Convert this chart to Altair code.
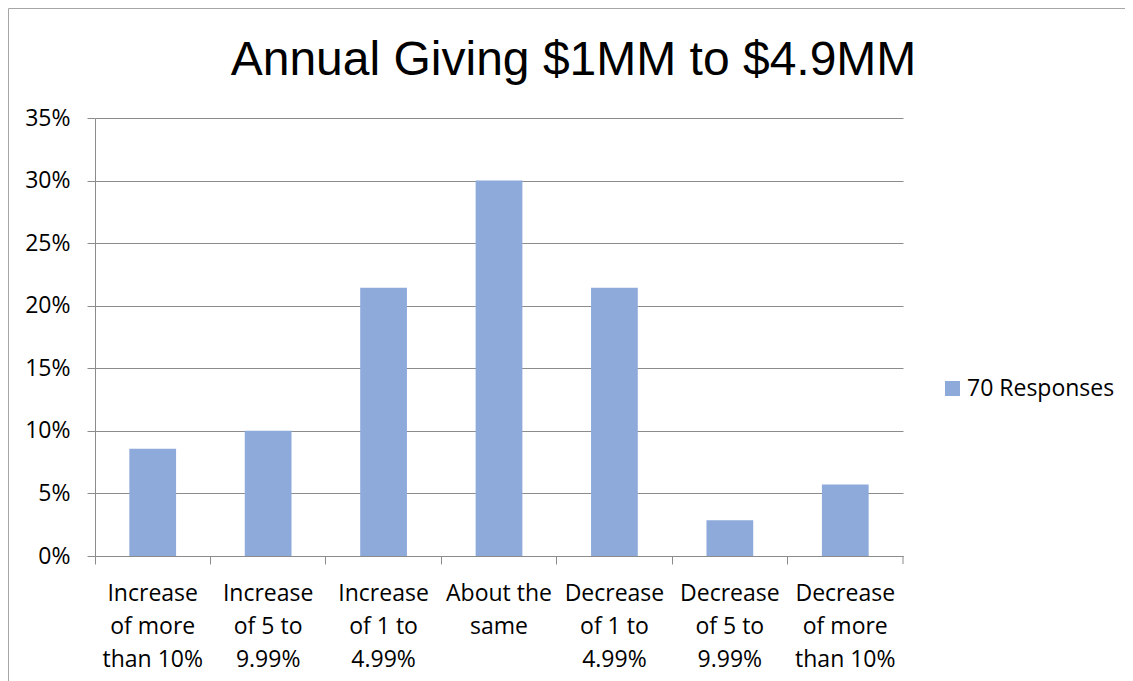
import altair as alt
import pandas as pd

title_text = "Annual Giving $1MM to $4.9MM"
categories = [
    "Increase\nof more\nthan 10%",
    "Increase\nof 5 to\n9.99%",
    "Increase\nof 1 to\n4.99%",
    "About the\nsame",
    "Decrease\nof 1 to\n4.99%",
    "Decrease\nof 5 to\n9.99%",
    "Decrease\nof more\nthan 10%",
]
values = [0.0857, 0.10, 0.2143, 0.30, 0.2143, 0.0286, 0.0571]
series_name = "70 Responses"
y_ticks = [0, 0.05, 0.10, 0.15, 0.20, 0.25, 0.30, 0.35]

df = pd.DataFrame({"category": categories, "value": values, "series": [series_name] * len(categories)})

W, H = 808, 438
AXIS_FONT = "Open Sans"
FS = 23
GRID = "#8c8c8c"

bars = alt.Chart(df).mark_bar(width=alt.RelativeBandSize(0.405)).encode(
    x=alt.X(
        "category:N",
        sort=categories,
        scale=alt.Scale(paddingInner=0, paddingOuter=0),
        axis=alt.Axis(
            title=None,
            bandPosition=0,
            labelAngle=0,
            labelExpr="split(datum.label, '\\n')",
            labelFont=AXIS_FONT,
            labelFontSize=FS,
            labelColor="black",
            labelLineHeight=33,
            labelBaseline="top",
            labelPadding=18,
            labelAlign="center",
            tickSize=8,
            tickColor=GRID,
            domainColor=GRID,
            grid=False,
        ),
    ),
    y=alt.Y(
        "value:Q",
        scale=alt.Scale(domain=[0, 0.35], nice=False),
        axis=alt.Axis(
            title=None,
            values=y_ticks,
            format=".0%",
            labelFont=AXIS_FONT,
            labelFontSize=FS,
            labelColor="black",
            labelPadding=17,
            tickSize=8,
            tickColor=GRID,
            domainColor=GRID,
            gridColor=GRID,
            grid=True,
        ),
    ),
    color=alt.Color(
        "series:N",
        scale=alt.Scale(range=["#8eaadb"]),
        legend=alt.Legend(
            title=None,
            orient="none",
            legendX=846,
            legendY=259,
            symbolType="square",
            symbolSize=225,
            symbolStrokeWidth=0,
            labelFont=AXIS_FONT,
            labelFontSize=FS,
            labelColor="black",
            labelOffset=3,
            padding=0,
        ),
    ),
)

border = alt.Chart(pd.DataFrame({"b": [0]})).mark_rect(
    fill=None, stroke="#a6a6a6", strokeWidth=1
).encode(
    x=alt.value(-86.5), x2=alt.value(1300), y=alt.value(-109.5), y2=alt.value(900)
)

title = alt.Chart(pd.DataFrame({"t": [title_text]})).mark_text(
    font="Liberation Sans", fontSize=48, color="black", align="center", baseline="alphabetic"
).encode(
    text="t:N", x=alt.value(478.5), y=alt.value(-43)
)

end_tick = alt.Chart(pd.DataFrame({"b": [0]})).mark_rule(color=GRID).encode(
    x=alt.value(W), y=alt.value(H), y2=alt.value(H + 8)
)

chart = alt.layer(border, bars, end_tick, title).properties(
    width=W,
    height=H,
    autosize=alt.AutoSizeParams(type="none"),
    padding={"left": 87, "top": 110, "right": 222, "bottom": 125},
).configure_view(stroke=None)

chart.save("out.html", embed_options={"renderer": "svg", "actions": False})
